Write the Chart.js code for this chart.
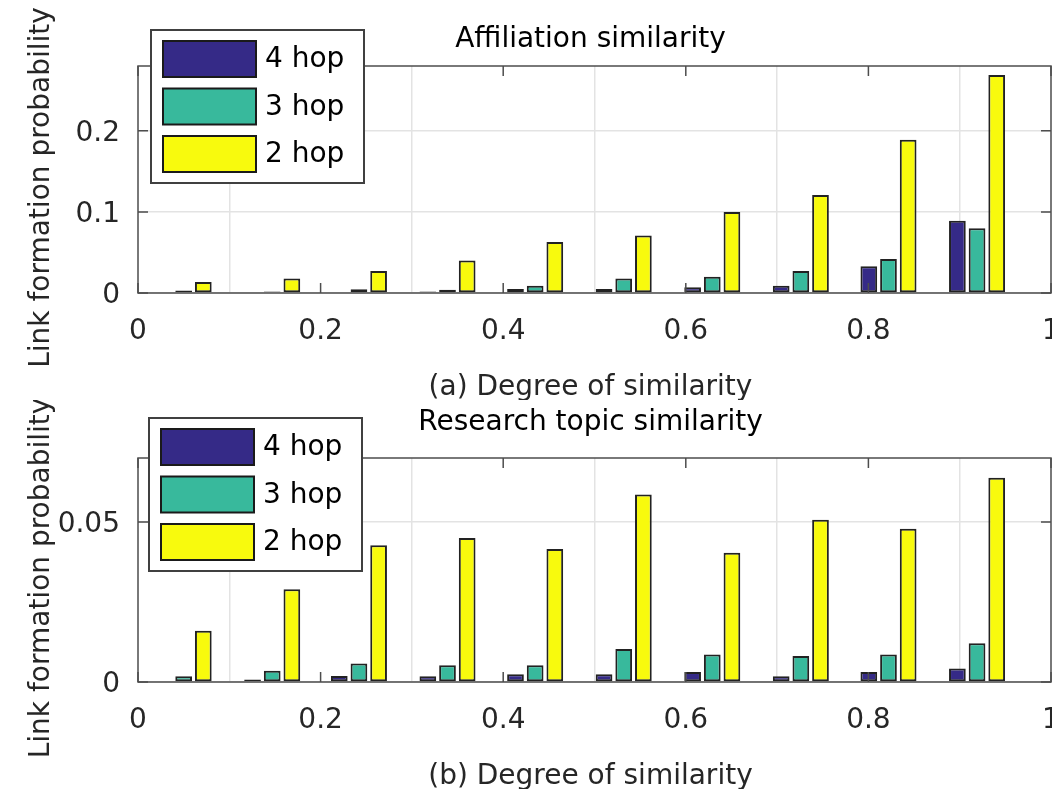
<!DOCTYPE html>
<html>
<head>
<meta charset="utf-8">
<title>Link formation probability</title>
<script src="https://cdn.jsdelivr.net/npm/chart.js@4.4.1/dist/chart.umd.min.js"></script>
<style>
  html, body { margin: 0; padding: 0; background: #fff; }
  #wrap { position: relative; width: 1052px; height: 789px; overflow: hidden; }
  canvas { position: absolute; left: 0; }
  #affilChart { top: 0; }
  #topicChart { top: 400px; }
</style>
</head>
<body>
<div id="wrap">
  <canvas id="affilChart" width="1052" height="400"></canvas>
  <canvas id="topicChart" width="1052" height="389"></canvas>
</div>
<script>
// bin centres on the "degree of similarity" axis
const binCenters = [0.05, 0.147, 0.242, 0.339, 0.435, 0.532, 0.629, 0.726, 0.822, 0.919];
const hopLabels = ['4 hop', '3 hop', '2 hop'];
const hopColors = ['#352a87', '#38b99c', '#f8fa0d'];
const xTicks = [0, 0.2, 0.4, 0.6, 0.8, 1];

// (a) affiliation similarity
const affil4hop = [0, 0, 0, 0.002, 0.005, 0.005, 0.007, 0.009, 0.033, 0.089];
const affil3hop = [0.003, 0.002, 0.0045, 0.004, 0.009, 0.018, 0.020, 0.027, 0.042, 0.080];
const affil2hop = [0.0136, 0.018, 0.027, 0.040, 0.063, 0.071, 0.100, 0.121, 0.189, 0.269];
const affilTicks = [0, 0.1, 0.2];

// (b) research topic similarity
const topic4hop = [0, 0.0008, 0.0019, 0.0018, 0.0024, 0.0024, 0.0031, 0.0018, 0.0031, 0.0042];
const topic3hop = [0.0018, 0.0035, 0.0058, 0.0052, 0.0052, 0.0103, 0.0086, 0.0081, 0.0086, 0.0121];
const topic2hop = [0.016, 0.029, 0.0427, 0.045, 0.0416, 0.0586, 0.0404, 0.0507, 0.0479, 0.0638];
const topicTicks = [0, 0.05];

Chart.defaults.font.family = "'DejaVu Sans', sans-serif";
Chart.defaults.font.size = 28;
Chart.defaults.color = '#262626';

// MATLAB style box, inward ticks, titles and the legend in the upper left
const matlabFrame = {
  id: 'matlabFrame',
  afterDraw(chart, args, opts) {
    const { ctx, chartArea: a, scales: { x, y } } = chart;
    ctx.save();

    ctx.strokeStyle = '#4d4d4d';
    ctx.lineWidth = 1.5;
    ctx.strokeRect(a.left, a.top, a.right - a.left, a.bottom - a.top);
    ctx.beginPath();
    x.ticks.forEach(t => {
      const px = x.getPixelForValue(t.value);
      ctx.moveTo(px, a.bottom); ctx.lineTo(px, a.bottom - 10);
      ctx.moveTo(px, a.top); ctx.lineTo(px, a.top + 10);
    });
    y.ticks.forEach(t => {
      const py = y.getPixelForValue(t.value);
      ctx.moveTo(a.left, py); ctx.lineTo(a.left + 10, py);
      ctx.moveTo(a.right, py); ctx.lineTo(a.right - 10, py);
    });
    ctx.stroke();

    const cx = (a.left + a.right) / 2 - 4;
    ctx.font = "28px 'DejaVu Sans', sans-serif";
    ctx.textAlign = 'center';
    ctx.textBaseline = 'middle';

    // title
    ctx.fillStyle = '#000';
    ctx.fillText(opts.title, cx, a.top - opts.titleGap);

    // axis labels
    ctx.fillStyle = '#262626';
    ctx.fillText(opts.xLabel, cx, a.bottom + 95);
    ctx.save();
    ctx.translate(42, (a.top + a.bottom) / 2 + 8);
    ctx.rotate(-Math.PI / 2);
    ctx.fillText(opts.yLabel, 0, 0);
    ctx.restore();

    // legend
    const lx = opts.legendX, ly = opts.legendY;
    ctx.fillStyle = '#fff';
    ctx.fillRect(lx, ly, 213, 153);
    ctx.lineWidth = 2;
    ctx.strokeStyle = '#404040';
    ctx.strokeRect(lx, ly, 213, 153);
    ctx.textAlign = 'left';
    chart.data.datasets.forEach((ds, i) => {
      const ry = ly + 11 + i * 47.5;
      ctx.fillStyle = ds.backgroundColor;
      ctx.fillRect(lx + 12, ry, 93, 36);
      ctx.strokeStyle = '#1a1a1a';
      ctx.strokeRect(lx + 12, ry, 93, 36);
      ctx.fillStyle = '#000';
      ctx.fillText(ds.label, lx + 114, ry + 19);
    });
    ctx.restore();
  }
};

function makeChart(id, series, yMax, yTicks, cfg) {
  return new Chart(document.getElementById(id), {
    type: 'bar',
    data: {
      datasets: series.map((vals, i) => ({
        label: hopLabels[i],
        data: binCenters.map((x, j) => ({ x: x, y: vals[j] })),
        backgroundColor: hopColors[i],
        borderColor: '#222',
        borderWidth: 2,
        borderSkipped: false,
        barPercentage: 0.85,
        categoryPercentage: 0.68
      }))
    },
    options: {
      responsive: false,
      animation: false,
      events: [],
      layout: { padding: { top: cfg.top, left: 0, right: 1, bottom: 0 } },
      scales: {
        x: {
          type: 'linear',
          min: 0,
          max: 1,
          offset: false,
          afterBuildTicks: s => { s.ticks = xTicks.map(v => ({ value: v })); },
          afterFit: s => { s.height = cfg.xHeight; s.paddingLeft = 0; s.paddingRight = 0; },
          ticks: { padding: 22, maxRotation: 0, callback: v => String(+v.toFixed(2)) },
          grid: { color: '#e3e3e3', lineWidth: 1.5, drawTicks: false },
          border: { display: false }
        },
        y: {
          min: 0,
          max: yMax,
          afterBuildTicks: s => { s.ticks = yTicks.map(v => ({ value: v })); },
          afterFit: s => { s.width = 138; s.paddingTop = 0; s.paddingBottom = 0; },
          ticks: { padding: 18, labelOffset: 3, callback: v => String(+v.toFixed(3)) },
          grid: { color: '#e3e3e3', lineWidth: 1.5, drawTicks: false },
          border: { display: false }
        }
      },
      plugins: {
        legend: { display: false },
        tooltip: { enabled: false },
        matlabFrame: {
          title: cfg.title,
          titleGap: cfg.titleGap,
          xLabel: cfg.xLabel,
          yLabel: 'Link formation probability',
          legendX: cfg.legendX,
          legendY: cfg.legendY
        }
      }
    },
    plugins: [matlabFrame]
  });
}

makeChart('affilChart', [affil4hop, affil3hop, affil2hop], 0.28, affilTicks, {
  title: 'Affiliation similarity',
  xLabel: '(a) Degree of similarity',
  top: 66,
  titleGap: 26,
  xHeight: 107,
  legendX: 151,
  legendY: 30
});

makeChart('topicChart', [topic4hop, topic3hop, topic2hop], 0.07, topicTicks, {
  title: 'Research topic similarity',
  xLabel: '(b) Degree of similarity',
  top: 58,
  titleGap: 35,
  xHeight: 107,
  legendX: 149,
  legendY: 18
});
</script>
</body>
</html>
